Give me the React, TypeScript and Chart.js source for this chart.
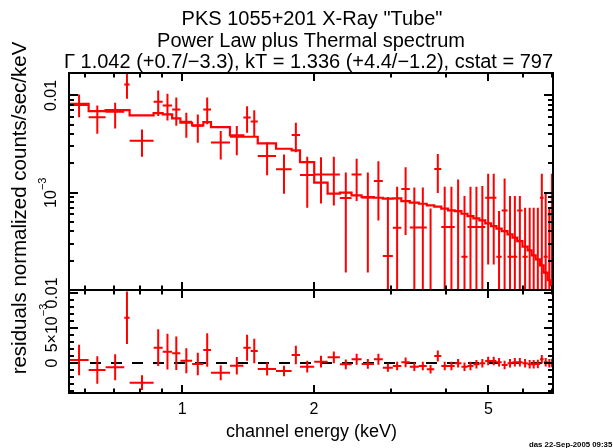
import { useEffect, useRef } from "react";
import { Chart, registerables } from "chart.js";

Chart.register(...registerables);

const FONT = '"Liberation Sans", Arial, sans-serif';
const RED = "#ff0000";

const titleLines = [
  'PKS 1055+201 X-Ray "Tube"',
  "Power Law plus Thermal spectrum",
  "\u0393 1.042 (+0.7/\u22123.3), kT = 1.336 (+4.4/\u22121.2), cstat = 797",
];
const yAxisTitle = "residuals normalized counts/sec/keV";
const xAxisTitle = "channel energy (keV)";
const stampText = "das 22-Sep-2005 09:35";

// axis ranges
const energyRange = [0.552, 7.02];
const countsRange = [1e-4, 0.017];
const residRange = [-0.00429, 0.01043];

// ticks
const xMajorTicks = [1, 2, 5];
const xTickLabels = ["1", "2", "5"];
const xMinorTicks = [0.6, 0.7, 0.8, 0.9, 3, 4, 6, 7];
const countsMajorTicks = [0.001, 0.01];
const countsTickLabels = [
  [{ t: "10" }, { t: "\u22123", sup: true }],
  [{ t: "0.01" }],
];
const countsMinorTicks = [
  2e-4, 3e-4, 4e-4, 5e-4, 6e-4, 7e-4, 8e-4, 9e-4, 2e-3, 3e-3, 4e-3, 5e-3, 6e-3, 7e-3, 8e-3, 9e-3,
];
const residMajorTicks = [0, 0.005, 0.01];
const residTickLabels = [
  [{ t: "0" }],
  [{ t: "5\u00d710" }, { t: "\u22123", sup: true }],
  [{ t: "0.01" }],
];
const residMinorTicks = [
  -0.004, -0.003, -0.002, -0.001, 0.001, 0.002, 0.003, 0.004, 0.006, 0.007, 0.008, 0.009,
];

// channel bins (keV), 54 bins
const binEdges = [
  0.552, 0.612, 0.669, 0.738, 0.759, 0.861, 0.903, 0.949, 0.991, 1.054, 1.118, 1.164, 1.286,
  1.38, 1.434, 1.488, 1.638, 1.778, 1.858, 2.002, 2.148, 2.291, 2.436, 2.568, 2.739, 2.871,
  3.026, 3.164, 3.308, 3.468, 3.617, 3.762, 3.903, 4.045, 4.189, 4.339, 4.48, 4.621, 4.769,
  4.917, 5.069, 5.214, 5.361, 5.527, 5.674, 5.816, 5.98, 6.145, 6.276, 6.409, 6.555, 6.684,
  6.826, 6.945, 7.018,
];

// normalized counts/sec/keV (0 = empty bin)
const counts = [
  0.00795, 0.00598, 0.0068, 0.01297, 0.00342, 0.00862, 0.00789, 0.00718, 0.00537, 0.00488,
  0.00718, 0.00329, 0.00375, 0.00594, 0.0054, 0.00239, 0.00174, 0.00391, 0.00152, 0.00154,
  0.00154, 0.000884, 0.00154, 0.000895, 0.00132, 0.000223, 0.000437, 0.00109, 0.00044, 0.00044,
  0, 0.00175, 0.000443, 0.000443, 0, 0.00022, 0.000443, 0.000443, 0.000443, 0.000888,
  0.000888, 0.00022, 0.000658, 0.00022, 0.00022, 0.000658, 0.00022, 0, 0, 0,
  0.000888, 0.00022, 0.000598, 0,
];
const countsUpper = [
  0.01024, 0.00789, 0.00841, 0.01683, 0.00447, 0.01125, 0.01041, 0.00954, 0.00664, 0.00638,
  0.00954, 0.0043, 0.00484, 0.00776, 0.00706, 0.00331, 0.00247, 0.00524, 0.00234, 0.00231,
  0.00234, 0.00161, 0.00224, 0.00161, 0.00211, 0.000905, 0.00115, 0.00183, 0.00113, 0.00113,
  0.00069, 0.0025, 0.00115, 0.00115, 0.00137, 0.000923, 0.00115, 0.00115, 0.00117, 0.00157,
  0.00157, 0.000647, 0.0014, 0.000923, 0.000923, 0.000923, 0.000701, 0.000701, 0.000701, 0.000701,
  0.00157, 0.001, 0.000701, 0.00157,
];
// lower error bound (0 = below the axis)
const countsLower = [
  0.00598, 0.00404, 0.00458, 0.00925, 0.00234, 0.00613, 0.00553, 0.00488, 0.00367, 0.00327,
  0.00504, 0.0022, 0.00242, 0.00414, 0.00376, 0.00151, 0.000977, 0.00261, 0.000701, 0.000776,
  0.000741, 0.000151, 0.000823, 0.000151, 0.000519, 0, 0, 0.000367, 0, 0,
  0, 0.000995, 0, 0, 0, 0, 0, 0, 0, 0.000183,
  0.000183, 0, 0, 0, 0, 0, 0, 0, 0, 0,
  0, 0, 0, 0,
];
const modelCounts = [
  0.00818, 0.0069, 0.00706, 0.00706, 0.00623, 0.00658, 0.00638, 0.0058, 0.00524, 0.00492,
  0.00532, 0.00472, 0.00388, 0.00376, 0.00376, 0.00321, 0.00283, 0.00272, 0.00206, 0.00127,
  0.000977, 0.001, 0.000938, 0.000901, 0.000888, 0.000868, 0.000874, 0.00082, 0.000789, 0.00077,
  0.000741, 0.000718, 0.000685, 0.000658, 0.000647, 0.000608, 0.000575, 0.000544, 0.000519, 0.000484,
  0.000454, 0.000427, 0.000403, 0.000373, 0.000345, 0.000318, 0.000279, 0.000255, 0.000227, 0.000206,
  0.000179, 0.000151, 0.000126, 0.000112,
];
const residuals = [
  0.00043, -0.001, -0.00061, 0.00647, -0.00281, 0.00219, 0.00161, 0.00139, 0.00033, -0.00014,
  0.00186, -0.00139, -0.00039, 0.00219, 0.00171, -0.00086, -0.00114, 0.00114, -0.00053, 0.00019,
  0.00081, -0.00019, 0.00053, -0.00014, 0.00053, -0.00067, -0.00043, 0.0001, -0.00053, -0.00043,
  -0.0009, 0.001, -0.00043, -0.00043, -0.00004, -0.00053, -0.00043, -0.00019, -0.00004, 0.00029,
  0.00029, 0.0001, -0.00029, -0.00004, 0.0001, 0.0001, -0.00004, -0.00019, -0.00019, -0.00014,
  0.00053, 0.0001, -0.00004, 0,
];
const residualErrors = [
  0.00219, 0.00197, 0.00186, 0.00376, 0.00105, 0.00262, 0.00255, 0.00239, 0.00179, 0.0016,
  0.00239, 0.00107, 0.00126, 0.00186, 0.00174, 0.00093, 0.00076, 0.00131, 0.00084, 0.00084,
  0.00084, 0.0007, 0.0008, 0.0007, 0.0008, 0.0006, 0.0006, 0.0007, 0.0006, 0.0006,
  0.0006, 0.0008, 0.0006, 0.0006, 0.0006, 0.0006, 0.0006, 0.0006, 0.0006, 0.0006,
  0.0006, 0.0006, 0.0006, 0.0006, 0.0006, 0.0006, 0.0006, 0.0006, 0.0006, 0.0006,
  0.0006, 0.0006, 0.0006, 0.0006,
];

type Pt = { x: number; y: number | null };
type Part = { t: string; sup?: boolean };

function crossData(vals: number[], up: number[], lo: number[], floor: number): Pt[] {
  const pts: Pt[] = [];
  for (let i = 0; i < vals.length; i++) {
    const x0 = binEdges[i];
    const x1 = binEdges[i + 1];
    const xc = (x0 + x1) / 2;
    const v = floor > 0 && vals[i] <= 0 ? null : vals[i];
    const l = floor > 0 ? Math.max(lo[i], floor) : lo[i];
    pts.push({ x: x0, y: v }, { x: x1, y: v }, { x: xc, y: null });
    pts.push({ x: xc, y: up[i] }, { x: xc, y: l }, { x: xc, y: null });
  }
  return pts;
}

function stepData(vals: number[]): Pt[] {
  const pts: Pt[] = vals.map((v, i) => ({ x: binEdges[i], y: v }));
  pts.push({ x: binEdges[vals.length], y: vals[vals.length - 1] });
  return pts;
}

function drawRot(ctx: CanvasRenderingContext2D, parts: Part[], bx: number, cy: number, size: number, supSize: number, rise: number) {
  ctx.save();
  ctx.translate(bx, cy);
  ctx.rotate(-Math.PI / 2);
  ctx.textBaseline = "alphabetic";
  ctx.textAlign = "left";
  ctx.fillStyle = "#000";
  const widths = parts.map((p) => {
    ctx.font = `${p.sup ? supSize : size}px ${FONT}`;
    return ctx.measureText(p.t).width;
  });
  let cx = -widths.reduce((a, b) => a + b, 0) / 2;
  parts.forEach((p, i) => {
    ctx.font = `${p.sup ? supSize : size}px ${FONT}`;
    ctx.fillText(p.t, cx, p.sup ? -rise : 0);
    cx += widths[i];
  });
  ctx.restore();
}

function drawFrame(chart: any, yMajor: number[], yMinor: number[]) {
  const ctx: CanvasRenderingContext2D = chart.ctx;
  const { left, right, top, bottom } = chart.chartArea;
  const xs = chart.scales.x;
  const ys = chart.scales.y;
  ctx.save();
  ctx.strokeStyle = "#000";
  ctx.lineWidth = 2;
  ctx.beginPath();
  const xt = (v: number, len: number) => {
    const p = Math.round(xs.getPixelForValue(v));
    ctx.moveTo(p, bottom);
    ctx.lineTo(p, bottom - len);
    ctx.moveTo(p, top);
    ctx.lineTo(p, top + len);
  };
  const yt = (v: number, len: number) => {
    const p = Math.round(ys.getPixelForValue(v));
    ctx.moveTo(left, p);
    ctx.lineTo(left + len, p);
    ctx.moveTo(right, p);
    ctx.lineTo(right - len, p);
  };
  xMajorTicks.forEach((v) => xt(v, 8));
  xMinorTicks.forEach((v) => xt(v, 4.5));
  yMajor.forEach((v) => yt(v, 9));
  yMinor.forEach((v) => yt(v, 5));
  ctx.stroke();
  ctx.strokeRect(left, top, right - left, bottom - top);
  ctx.restore();
}

const topPlugin = {
  id: "topDecor",
  afterDatasetsDraw(chart: any) {
    drawFrame(chart, countsMajorTicks, countsMinorTicks);
    const ctx: CanvasRenderingContext2D = chart.ctx;
    const ys = chart.scales.y;
    ctx.save();
    ctx.fillStyle = "#000";
    ctx.font = `20px ${FONT}`;
    ctx.textAlign = "center";
    ctx.textBaseline = "alphabetic";
    ctx.fillText(titleLines[0], 312, 25);
    ctx.fillText(titleLines[1], 311, 46.5);
    ctx.fillText(titleLines[2], 308.5, 68, 493);
    ctx.restore();
    countsMajorTicks.forEach((v, i) => {
      drawRot(ctx, countsTickLabels[i], 56, ys.getPixelForValue(v), 16, 11, 10);
    });
    drawRot(ctx, [{ t: yAxisTitle }], 26, 208, 20.5, 14, 0);
  },
};

const bottomPlugin = {
  id: "bottomDecor",
  afterDatasetsDraw(chart: any) {
    drawFrame(chart, residMajorTicks, residMinorTicks);
    const ctx: CanvasRenderingContext2D = chart.ctx;
    const xs = chart.scales.x;
    const ys = chart.scales.y;
    residMajorTicks.forEach((v, i) => {
      drawRot(ctx, residTickLabels[i], 56.5, ys.getPixelForValue(v), 16, 11, 10);
    });
    ctx.save();
    ctx.fillStyle = "#000";
    ctx.textAlign = "center";
    ctx.textBaseline = "alphabetic";
    ctx.font = `16px ${FONT}`;
    xMajorTicks.forEach((v, i) => ctx.fillText(xTickLabels[i], xs.getPixelForValue(v), 413.5));
    ctx.font = `18px ${FONT}`;
    ctx.fillText(xAxisTitle, 311.5, 437);
    ctx.textAlign = "left";
    ctx.font = `bold 7.8px ${FONT}`;
    ctx.fillText(stampText, 529, 446.5);
    ctx.restore();
  },
};

function baseOptions(padding: any, yType: string, yRange: number[]) {
  return {
    animation: false,
    responsive: false,
    maintainAspectRatio: false,
    events: [],
    layout: { padding },
    scales: {
      x: { type: "logarithmic", min: energyRange[0], max: energyRange[1], display: false },
      y: { type: yType, min: yRange[0], max: yRange[1], display: false },
    },
    plugins: { legend: { display: false }, tooltip: { enabled: false }, title: { display: false } },
    elements: { point: { radius: 0, hoverRadius: 0 } },
  };
}

export default function App() {
  const topRef = useRef<HTMLCanvasElement>(null);
  const botRef = useRef<HTMLCanvasElement>(null);

  useEffect(() => {
    const top = new Chart(topRef.current as HTMLCanvasElement, {
      type: "line",
      data: {
        datasets: [
          {
            data: crossData(counts, countsUpper, countsLower, countsRange[0] * 0.5),
            borderColor: RED,
            borderWidth: 2,
            spanGaps: false,
            pointRadius: 0,
          },
          {
            data: stepData(modelCounts),
            borderColor: RED,
            borderWidth: 2.2,
            stepped: "before",
            pointRadius: 0,
          },
        ],
      },
      options: baseOptions({ left: 69, right: 60, top: 73, bottom: 158 }, "logarithmic", countsRange) as any,
      plugins: [topPlugin],
    } as any);

    const resUp = residuals.map((r, i) => r + residualErrors[i]);
    const resLo = residuals.map((r, i) => r - residualErrors[i]);
    const bottom = new Chart(botRef.current as HTMLCanvasElement, {
      type: "line",
      data: {
        datasets: [
          {
            data: crossData(residuals, resUp, resLo, 0),
            borderColor: RED,
            borderWidth: 2,
            spanGaps: false,
            pointRadius: 0,
          },
          {
            data: [
              { x: energyRange[0], y: 0 },
              { x: energyRange[1], y: 0 },
            ],
            borderColor: "#000",
            borderWidth: 2,
            borderDash: [11, 10],
            pointRadius: 0,
          },
        ],
      },
      options: baseOptions({ left: 69, right: 60, top: 290, bottom: 55 }, "linear", residRange) as any,
      plugins: [bottomPlugin],
    } as any);

    return () => {
      top.destroy();
      bottom.destroy();
    };
  }, []);

  const cs: any = { position: "absolute", left: 0, top: 0, width: 613, height: 448 };
  return (
    <div style={{ position: "fixed", left: 0, top: 0, width: 613, height: 448, background: "#fff" }}>
      <canvas ref={topRef} width={613} height={448} style={cs} />
      <canvas ref={botRef} width={613} height={448} style={cs} />
    </div>
  );
}
